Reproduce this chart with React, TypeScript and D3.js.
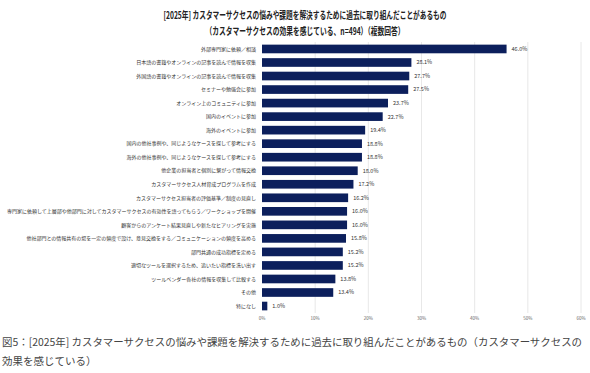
import React from "react";
import * as d3 from "d3";

const categories = [
  "外部専門家に依頼／相談",
  "日本語の書籍やオンラインの記事を読んで情報を収集",
  "外国語の書籍やオンラインの記事を読んで情報を収集",
  "セミナーや勉強会に参加",
  "オンライン上のコミュニティに参加",
  "国内のイベントに参加",
  "海外のイベントに参加",
  "国内の他社事例や、同じようなケースを探して参考にする",
  "海外の他社事例や、同じようなケースを探して参考にする",
  "他企業の担当者と個別に繋がって情報交換",
  "カスタマーサクセス人材育成プログラムを作成",
  "カスタマーサクセス担当者の評価基準／制度の見直し",
  "専門家に依頼して上層部や他部門に対してカスタマーサクセスの有効性を語ってもらう／ワークショップを開催",
  "顧客からのアンケート結果見直しや新たなヒアリングを実施",
  "他社部門との情報共有の場を一定の頻度で設け、意見交換をする／コミュニケーションの頻度を高める",
  "部門共通の成功指標を定める",
  "適切なツールを選択するため、追いたい指標を洗い出す",
  "ツールベンダー各社の情報を収集して比較する",
  "その他",
  "特になし",
];

const values = [46.0, 28.1, 27.7, 27.5, 23.7, 22.7, 19.4, 18.8, 18.8, 18.0, 17.2, 16.2, 16.0, 16.0, 15.8, 15.2, 15.2, 13.8, 13.4, 1.0];

const ticks = [0, 10, 20, 30, 40, 50, 60];

const titleLines = [
  "[2025年] カスタマーサクセスの悩みや課題を解決するために過去に取り組んだことがあるもの",
  "（カスタマーサクセスの効果を感じている、n=494）（複数回答）",
];

const captionLines = [
  "図5：[2025年] カスタマーサクセスの悩みや課題を解決するために過去に取り組んだことがあるもの（カスタマーサクセスの",
  "効果を感じている）",
];

const font = "'Noto Sans CJK JP', 'Noto Sans', sans-serif";

export default function App() {
  const x = d3.scaleLinear().domain([0, 60]).range([262, 581]);
  const y = d3.scaleBand<string>().domain(categories).range([42.2, 312.8]).paddingInner(0.36).paddingOuter(0.18);

  return (
    <svg width={590} height={373} viewBox="0 0 590 373" style={{ position: "fixed", left: 0, top: 0, background: "#fff" }} fontFamily={font}>
      <rect width={590} height={373} fill="#fff" />
      {titleLines.map((t, i) => (
        <text key={t} x={305} y={19 + i * 16} textAnchor="middle" fontSize={10} fontWeight="bold" fill="#222"
          textLength={i === 0 ? 283 : 199} lengthAdjust="spacingAndGlyphs">{t}</text>
      ))}

      {ticks.filter(t => t > 0).map(t => (
        <line key={t} x1={x(t)} x2={x(t)} y1={42} y2={313} stroke="#e2e2e2" strokeWidth={0.8} />
      ))}

      {categories.map((c, i) => {
        const yy = y(c)!;
        const cy = yy + y.bandwidth() / 2;
        return (
          <g key={c}>
            <text x={256} y={cy} dy="0.35em" textAnchor="end" fontSize={5} fill="#333">{c}</text>
            <rect x={x(0)} y={yy} width={x(values[i]) - x(0)} height={y.bandwidth()} fill="#0c1f5c" />
            <text x={x(values[i]) + 5} y={cy} dy="0.35em" fontSize={5.5} fill="#333">{values[i].toFixed(1)}%</text>
          </g>
        );
      })}

      {ticks.map(t => (
        <text key={t} x={x(t)} y={320} textAnchor="middle" fontSize={4.5} fill="#666">{t}%</text>
      ))}

      {captionLines.map((t, i) => (
        <text key={t} x={2} y={346 + i * 19} fontSize={10.5} fill="#444"
          textLength={i === 0 ? 580 : undefined} lengthAdjust="spacingAndGlyphs">{t}</text>
      ))}
    </svg>
  );
}
